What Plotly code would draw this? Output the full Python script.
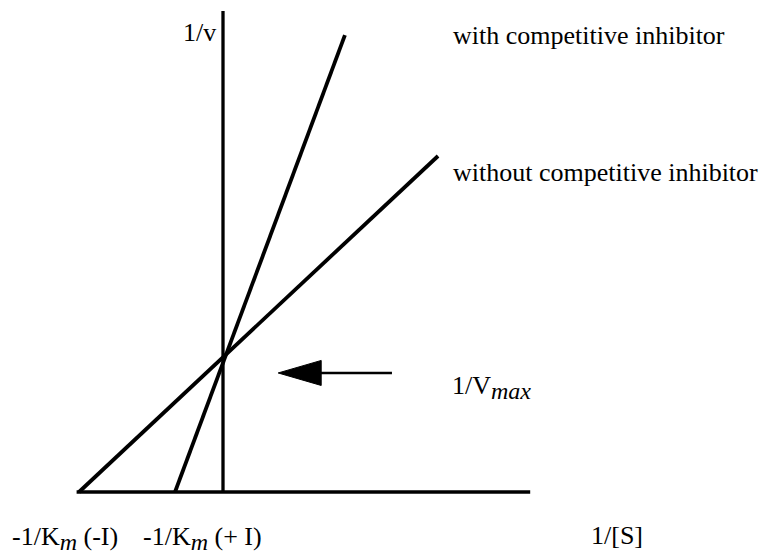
import plotly.graph_objects as go

# ---- data (Lineweaver-Burk double reciprocal plot, arbitrary units) ----
x_without = [-3.0, 4.48]      # 1/[S]  without competitive inhibitor
y_without = [0.0, 7.0]        # 1/v
x_with = [-1.0, 2.54]         # 1/[S]  with competitive inhibitor
y_with = [0.0, 9.52]          # 1/v
x_axis_line = [-3.05, 6.4]
y_axis_line = [0.0, 10.02]
inv_vmax = 2.48               # level of the arrow pointing at 1/Vmax
arrow_x = [1.15, 3.52]        # tip, tail

SUB = '<sub><span style="font-size:24px"><i>{}</i></span></sub>'
labels_text = {
    "with": "with competitive inhibitor",
    "without": "without competitive inhibitor",
    "vmax": "1/V" + SUB.format("max"),
    "v": "1/v",
    "S": "1/[S]",
    "km_minus": "-1/K" + SUB.format("m") + " (-I)",
    "km_plus": "-1/K" + SUB.format("m") + " (+ I)",
}

W, H = 765, 555
PX = 48.0            # pixels per data unit
ORIGIN = (223, 492)  # pixel position of (0,0)

xr = [-ORIGIN[0] / PX, (W - ORIGIN[0]) / PX]
yr = [-(H - ORIGIN[1]) / PX, ORIGIN[1] / PX]

LW = 3.8
fig = go.Figure()

def seg(xs, ys, w=LW):
    fig.add_trace(go.Scatter(x=xs, y=ys, mode="lines",
                             line=dict(color="black", width=w),
                             hoverinfo="skip", showlegend=False))

# axes
seg(x_axis_line, [0, 0], 3.3)
seg([0, 0], y_axis_line, 3.3)
# lines
seg(x_without, y_without)
seg(x_with, y_with)

# arrow: shaft + filled triangular head
head_len = 43 / PX
head_half = 12.5 / PX
seg([arrow_x[0] + head_len * 0.9, arrow_x[1]], [inv_vmax, inv_vmax], 2.6)
fig.add_trace(go.Scatter(
    x=[arrow_x[0], arrow_x[0] + head_len, arrow_x[0] + head_len, arrow_x[0]],
    y=[inv_vmax, inv_vmax + head_half, inv_vmax - head_half, inv_vmax],
    mode="lines", fill="toself", fillcolor="black",
    line=dict(color="black", width=1), hoverinfo="skip", showlegend=False))

FONT = dict(family="Liberation Serif, Times New Roman, serif", size=26, color="black")

def px2x(p):
    return (p - ORIGIN[0]) / PX

def py2y(p):
    return (ORIGIN[1] - p) / PX

def label(key, px, py, xanchor="left", yanchor="middle"):
    fig.add_annotation(x=px2x(px), y=py2y(py), text=labels_text[key],
                       showarrow=False, xanchor=xanchor, yanchor=yanchor,
                       font=FONT, xref="x", yref="y")

label("with", 451, 35)
label("without", 451, 172)
label("vmax", 450, 387)
label("v", 218, 32, xanchor="right")
label("S", 589, 535)
label("km_minus", 10, 538)
label("km_plus", 141, 538)

fig.update_layout(
    width=W, height=H,
    margin=dict(l=0, r=0, t=0, b=0),
    paper_bgcolor="white", plot_bgcolor="white",
    xaxis=dict(range=xr, visible=False, fixedrange=True),
    yaxis=dict(range=yr, visible=False, fixedrange=True),
    showlegend=False,
)

fig.write_html("out.html", config={"displayModeBar": False},
               post_script="document.body.style.margin='0';document.body.style.overflow='hidden';")
